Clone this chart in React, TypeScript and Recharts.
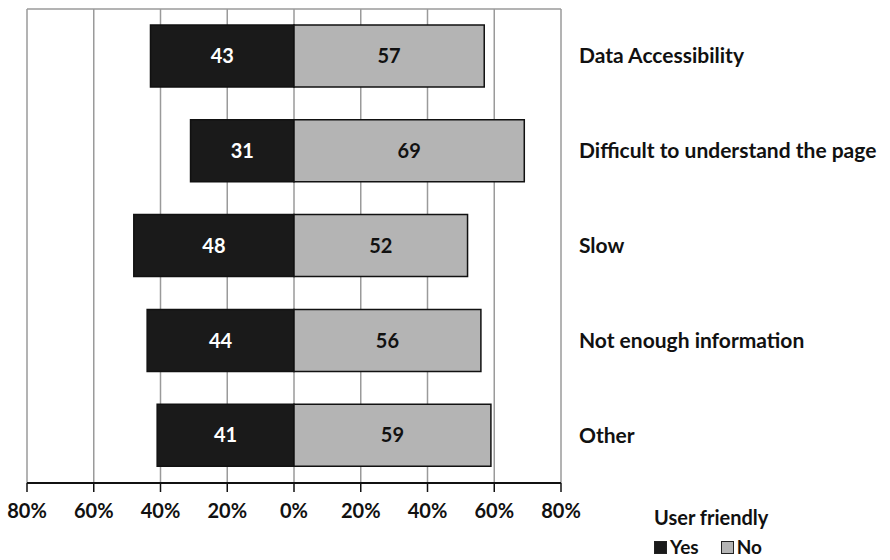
import { BarChart, Bar, XAxis, YAxis, CartesianGrid, LabelList } from 'recharts';

const categories = [
  'Data Accessibility',
  'Difficult to understand the page',
  'Slow',
  'Not enough information',
  'Other',
];
const yesValues = [43, 31, 48, 44, 41];
const noValues = [57, 69, 52, 56, 59];
const xTicks = [-80, -60, -40, -20, 0, 20, 40, 60, 80];

// "Yes" goes left of zero, "No" goes right
const rows = categories.map((name, i) => ({
  name,
  yes: -yesValues[i],
  no: noValues[i],
}));

const FONT = 'Lato, "Open Sans", sans-serif';
const YES_COLOR = '#1a1a1a';
const NO_COLOR = '#b4b4b4';

const series = [
  { name: 'Yes', color: YES_COLOR },
  { name: 'No', color: NO_COLOR },
];

const XTick = ({ x, y, payload }: any) => (
  <text x={x} y={y + 24} textAnchor="middle" fontFamily={FONT} fontWeight={700} fontSize={20} fill="#111">
    {Math.abs(payload.value)}%
  </text>
);

const CategoryTick = ({ x, y, payload }: any) => (
  <text x={x + 16} y={y + 7} textAnchor="start" fontFamily={FONT} fontWeight={700} fontSize={21} fill="#111">
    {payload.value}
  </text>
);

const LegendBox = () => (
  <div style={{ position: 'absolute', left: 654, top: 505, fontFamily: FONT, fontWeight: 700, color: '#111' }}>
    <div style={{ fontSize: 20, lineHeight: '24px' }}>User friendly</div>
    <div style={{ display: 'flex', alignItems: 'center', fontSize: 19, lineHeight: '18px', marginTop: 9 }}>
      {series.map((item) => (
        <span key={item.name} style={{ display: 'flex', alignItems: 'center', marginRight: 22 }}>
          <span
            style={{
              width: 11,
              height: 11,
              background: item.color,
              border: '1px solid #222',
              marginRight: 3,
              display: 'inline-block',
            }}
          />
          {item.name}
        </span>
      ))}
    </div>
  </div>
);

export default function App() {
  return (
    <div style={{ position: 'absolute', left: 0, top: 0, width: 890, height: 560, background: '#fff' }}>
      <BarChart
        width={890}
        height={560}
        data={rows}
        layout="vertical"
        stackOffset="sign"
        barSize={62}
        margin={{ top: 9, right: 0, bottom: 0, left: 27 }}
      >
        <CartesianGrid
          stroke="#9a9a9a"
          strokeWidth={1.5}
          horizontal={true}
          vertical={true}
          horizontalCoordinatesGenerator={({ offset }: any) => [offset.top]}
        />
        <XAxis
          type="number"
          domain={[-80, 80]}
          ticks={xTicks}
          interval={0}
          height={77}
          axisLine={{ stroke: '#111', strokeWidth: 2 }}
          tickLine={{ stroke: '#111', strokeWidth: 1.5 }}
          tickSize={9}
          tick={<XTick />}
        />
        <YAxis
          type="category"
          dataKey="name"
          orientation="right"
          width={329}
          axisLine={false}
          tickLine={false}
          tickSize={0}
          tick={<CategoryTick />}
        />
        <Bar dataKey="yes" name="Yes" stackId="s" fill={YES_COLOR} stroke="#111" strokeWidth={1.5} isAnimationActive={false}>
          <LabelList
            dataKey="yes"
            position="center"
            formatter={(v: any) => Math.abs(Number(v))}
            fill="#fff"
            fontFamily={FONT}
            fontWeight={700}
            fontSize={20}
          />
        </Bar>
        <Bar dataKey="no" name="No" stackId="s" fill={NO_COLOR} stroke="#111" strokeWidth={1.5} isAnimationActive={false}>
          <LabelList
            dataKey="no"
            position="center"
            formatter={(v: any) => Math.abs(Number(v))}
            fill="#111"
            fontFamily={FONT}
            fontWeight={700}
            fontSize={20}
          />
        </Bar>
      </BarChart>
      <LegendBox />
    </div>
  );
}
